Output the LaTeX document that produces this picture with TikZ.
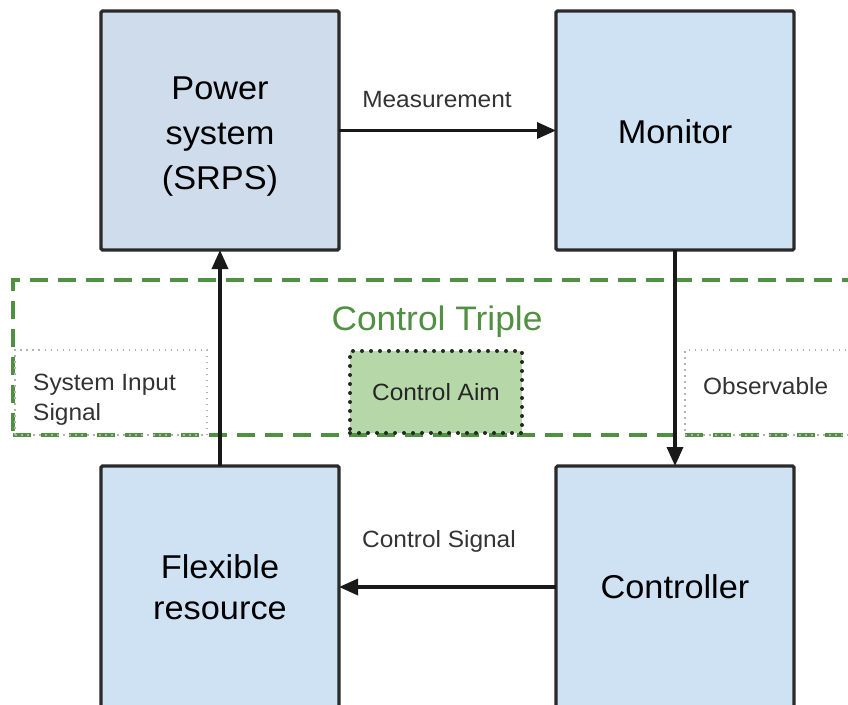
\documentclass[tikz,border=0pt]{standalone}
\usepackage{fontspec}
\setmainfont[FakeStretch=1.04]{Liberation Sans}
\usetikzlibrary{arrows.meta}
\definecolor{psfill}{HTML}{CEDCEB}
\definecolor{boxfill}{HTML}{CFE2F3}
\definecolor{aimfill}{HTML}{B6D7A8}
\definecolor{tripgreen}{HTML}{4F9141}
\definecolor{boxline}{HTML}{2A2A2A}
\definecolor{labtext}{HTML}{333333}
\tikzset{
  x=1pt, y=-1pt,
  bigbox/.style={draw=boxline, line width=3.2pt, rounded corners=1.5pt, fill=boxfill,
    minimum width=238pt, minimum height=239pt, inner sep=0pt, outer sep=0pt,
    anchor=north west, align=center, text=black,
    font=\fontsize{33}{41}\selectfont},
  lowbox/.style={bigbox, minimum height=242pt},
  boxtext/.style={align=center, text=black, inner sep=0pt, font=\fontsize{33}{45}\selectfont},
  arr/.style={line width=3.4pt, draw=black!90, -{Triangle[length=19pt,width=16pt]}},
  lab/.style={text=labtext, font=\fontsize{23.5}{30}\selectfont, inner sep=0pt},
  dotbox/.style={draw=gray!60, line width=1.6pt, dash pattern=on 1.5pt off 4.5pt,
    minimum height=85pt, inner sep=0pt, outer sep=0pt, anchor=north west},
  dottext/.style={align=left, text=labtext, inner sep=0pt, anchor=west,
    font=\fontsize{23.5}{30}\selectfont},
  aimbox/.style={fill=aimfill, draw=black!85, line width=4pt, line cap=round,
    dash pattern=on 0pt off 9pt, minimum width=172pt, minimum height=82pt,
    inner sep=0pt, outer sep=0pt, anchor=north west, text=black!85,
    font=\fontsize{23.5}{30}\selectfont},
  tripframe/.style={draw=tripgreen, line width=3.6pt, dash pattern=on 18pt off 10pt,
    minimum width=850pt, minimum height=155pt, inner sep=0pt, outer sep=0pt,
    anchor=north west},
}
\begin{document}
\begin{tikzpicture}
\useasboundingbox (0,0) rectangle (848,704);
\clip (0,0) rectangle (848,704);
\fill[white] (0,0) rectangle (848,704);
% control triple region
\node[tripframe] (triple) at (13,280) {};
\node[text=tripgreen, font=\fontsize{34}{40}\selectfont, inner sep=0pt] (tripname) at (437,322) {Control Triple};
\node[dotbox, minimum width=192pt] (sis) at (15,350) {};
\node[dottext] (sistext) at (33,400) {System Input\\Signal};
\node[dotbox, minimum width=200pt] (obs) at (685,350) {};
\node[dottext] (obstext) at (703,386) {Observable};
\node[aimbox] (aim) at (350,351) {Control Aim};
% main boxes
\node[bigbox, fill=psfill] (ps) at (101,11) {};
\node[boxtext] (pstext) at (220,137) {Power\\system\\(SRPS)};
\node[bigbox] (mon) at (556,11) {};
\node[boxtext] (montext) at (675,132) {Monitor};
\node[lowbox] (flex) at (101,466) {Flexible\\resource};
\node[lowbox] (ctrl) at (556,466) {Controller};
% connectors
\draw[arr] (ps.east) -- (mon.west);
\draw[arr] (mon.south) -- (ctrl.north);
\draw[arr] (ctrl.west) -- (flex.east);
\draw[arr] (flex.north) -- (ps.south);
% labels
\node[lab] (meas) at (437,100) {Measurement};
\node[lab] (csig) at (439,541) {Control Signal};
\end{tikzpicture}
\end{document}
